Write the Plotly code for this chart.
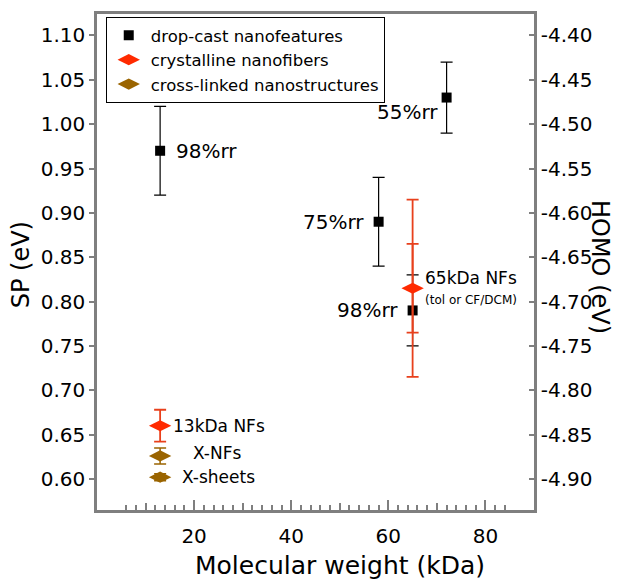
import plotly.graph_objects as go

# ---- data -------------------------------------------------------------
# drop-cast nanofeatures (black squares)
dropcast_mw = [13, 58, 65, 72]
dropcast_sp = [0.97, 0.89, 0.79, 1.03]
dropcast_err = [0.05, 0.05, 0.04, 0.04]
dropcast_labels = ["98%rr", "75%rr", "98%rr", "55%rr"]

# crystalline nanofibers (red diamonds)
fiber_mw = [13, 65]
fiber_sp = [0.66, 0.815]
fiber_err = [0.018, 0.05]
fiber_err_outer = [None, 0.10]
fiber_labels = ["13kDa NFs", "65kDa NFs"]
fiber_note = "(tol or CF/DCM)"

# cross-linked nanostructures (brown diamonds)
xlink_mw = [13, 13]
xlink_sp = [0.626, 0.602]
xlink_err = [0.009, 0.004]
xlink_labels = ["X-NFs", "X-sheets"]

# axes
sp_ticks = [0.60, 0.65, 0.70, 0.75, 0.80, 0.85, 0.90, 0.95, 1.00, 1.05, 1.10]
homo_offset = -5.50          # HOMO = SP + offset
homo_ticktext = ["-4.90", "-4.85", "-4.80", "-4.75", "-4.70", "-4.65",
                 "-4.60", "-4.55", "-4.50", "-4.45", "-4.40"]
mw_major = [20, 40, 60, 80]
mw_mid = [10, 30, 50, 70]
mw_minor = list(range(6, 86, 2))
sp_range = [0.565, 1.1242]
mw_range = [0, 90]

BLACK = "#000000"
RED = "#ff2a00"
RED_BAR = "#e8401c"
BROWN = "#9a6400"
AXIS = "#7f7f7f"
FONT = "DejaVu Sans"

fig = go.Figure()

fig.add_trace(go.Scatter(
    x=dropcast_mw, y=dropcast_sp, mode="markers",
    name="drop-cast nanofeatures",
    marker=dict(symbol="square", size=10, color=BLACK),
    error_y=dict(type="data", array=dropcast_err, color=BLACK,
                 thickness=1.2, width=6),
))

# outer (wide) uncertainty of the 65 kDa fibers
fig.add_trace(go.Scatter(
    x=fiber_mw[1:], y=fiber_sp[1:], mode="markers",
    showlegend=False, hoverinfo="skip",
    marker=dict(symbol="diamond-wide", size=16, color=RED, opacity=0),
    error_y=dict(type="data", array=fiber_err_outer[1:], color=RED_BAR,
                 thickness=1.8, width=6),
))

fig.add_trace(go.Scatter(
    x=fiber_mw, y=fiber_sp, mode="markers",
    name="crystalline nanofibers",
    marker=dict(symbol="diamond-wide", size=16, color=RED),
    error_y=dict(type="data", array=fiber_err, color=RED_BAR,
                 thickness=1.8, width=6),
))

fig.add_trace(go.Scatter(
    x=xlink_mw, y=xlink_sp, mode="markers",
    name="cross-linked nanostructures",
    marker=dict(symbol="diamond-wide", size=16, color=BROWN),
    error_y=dict(type="data", array=xlink_err, color=BROWN,
                 thickness=1.5, width=6),
))

# carrier traces for the secondary axes
fig.add_trace(go.Scatter(x=[], y=[], xaxis="x2", showlegend=False))
fig.add_trace(go.Scatter(x=[], y=[], yaxis="y2", showlegend=False))

# ---- point labels ------------------------------------------------------
ann = []
# drop-cast labels: first one to the right, the rest to the left
for i, (mx, sy, txt) in enumerate(zip(dropcast_mw, dropcast_sp, dropcast_labels)):
    if i == 0:
        ann.append(dict(x=mx, y=sy, text=txt, xanchor="left", xshift=14,
                        font=dict(size=20)))
    elif mx == 72:
        ann.append(dict(x=mx, y=sy, text=txt, xanchor="right", xshift=-7,
                        yshift=-14, font=dict(size=20)))
    else:
        ann.append(dict(x=mx, y=sy, text=txt, xanchor="right", xshift=-13,
                        font=dict(size=20)))

ann.append(dict(x=fiber_mw[0], y=fiber_sp[0], text=fiber_labels[0],
                xanchor="left", xshift=11, font=dict(size=17)))
ann.append(dict(x=fiber_mw[1], y=fiber_sp[1], text=fiber_labels[1],
                xanchor="left", xshift=10, yshift=10, font=dict(size=17)))
ann.append(dict(x=fiber_mw[1], y=fiber_sp[1], text=fiber_note,
                xanchor="left", xshift=10, yshift=-12, font=dict(size=12)))
ann.append(dict(x=xlink_mw[0], y=xlink_sp[0], text=xlink_labels[0],
                xanchor="left", xshift=31, yshift=3, font=dict(size=17)))
ann.append(dict(x=xlink_mw[1], y=xlink_sp[1], text=xlink_labels[1],
                xanchor="left", xshift=20, font=dict(size=17)))

for a in ann:
    a.update(xref="x", yref="y", showarrow=False, yanchor="middle")
    a["font"].update(family=FONT, color=BLACK)

# axis titles
title_font = dict(family=FONT, size=24, color=BLACK)
ann.append(dict(text="SP (eV)", xref="paper", yref="paper", x=-0.172, y=0.495,
                xanchor="center", yanchor="middle", textangle=-90,
                showarrow=False, font=title_font))
ann.append(dict(text="HOMO (eV)", xref="paper", yref="paper", x=1.151, y=0.49,
                xanchor="center", yanchor="middle", textangle=90,
                showarrow=False, font=title_font))
ann.append(dict(text="Molecular weight (kDa)", xref="paper", yref="paper",
                x=0.555, y=-0.112, xanchor="center", yanchor="middle",
                showarrow=False, font=dict(family=FONT, size=25, color=BLACK)))

fig.update_layout(
    width=632, height=579,
    margin=dict(l=97, r=98, t=14, b=69),
    paper_bgcolor="white", plot_bgcolor="white",
    font=dict(family=FONT, size=20, color=BLACK),
    showlegend=True,
    legend=dict(x=0.02, y=0.994, xanchor="left", yanchor="top",
                bgcolor="white", bordercolor=BLACK, borderwidth=1,
                font=dict(family=FONT, size=16.5, color=BLACK),
                itemwidth=34, itemsizing="trace", tracegroupgap=0),
    xaxis=dict(range=mw_range, tickvals=mw_major, ticks="inside", ticklen=10,
               tickwidth=1.5, tickcolor=AXIS, showline=True, linecolor=AXIS,
               linewidth=2.5, mirror=True, showgrid=False, zeroline=False,
               ticklabelstandoff=6,
               minor=dict(tickvals=mw_minor, ticks="inside", ticklen=5,
                          tickwidth=1.5, tickcolor=AXIS, showgrid=False),
               tickfont=dict(size=20)),
    xaxis2=dict(range=mw_range, overlaying="x", anchor="y", side="bottom",
                tickvals=mw_mid, ticks="inside", ticklen=7, tickwidth=1.5,
                tickcolor=AXIS, showticklabels=False, showline=False,
                showgrid=False, zeroline=False),
    yaxis=dict(range=sp_range, tickvals=sp_ticks, tickformat=".2f",
               ticks="outside", ticklen=5, tickwidth=1.5, tickcolor=AXIS,
               showline=True, linecolor=AXIS, linewidth=2.5, showgrid=False,
               zeroline=False, tickfont=dict(size=20)),
    yaxis2=dict(range=[sp_range[0] + homo_offset, sp_range[1] + homo_offset],
                tickvals=[round(v + homo_offset, 2) for v in sp_ticks],
                ticktext=homo_ticktext, overlaying="y", side="right",
                anchor="x", ticks="inside", ticklen=5, tickwidth=1.5,
                tickcolor=AXIS, showline=True, linecolor=AXIS, linewidth=2.5,
                showgrid=False, zeroline=False, tickfont=dict(size=20)),
    annotations=ann,
)

fig.write_html("out.html")
